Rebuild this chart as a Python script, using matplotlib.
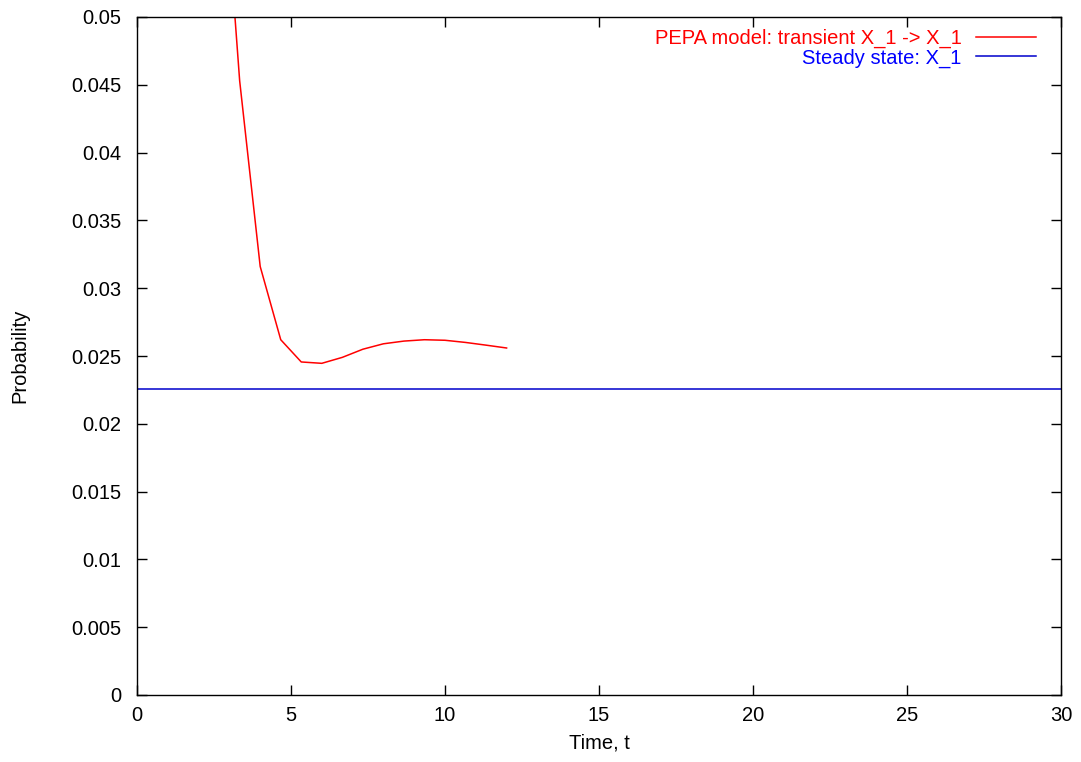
import numpy as np
import matplotlib.pyplot as plt

# transient probability of X_1
t = [2.667, 3.333, 4.0, 4.667, 5.333, 6.0, 6.667, 7.333, 8.0, 8.667,
     9.333, 10.0, 10.667, 11.333, 12.0]
p_transient = [0.0658, 0.0453, 0.0316, 0.0262, 0.02456, 0.02446, 0.0249,
               0.0255, 0.0259, 0.0261, 0.0262, 0.02616, 0.0260, 0.0258,
               0.02559]
steady = 0.02256
xlim = (0, 30)
ylim = (0, 0.05)

plt.rcParams['font.family'] = ['Liberation Sans', 'DejaVu Sans']
plt.rcParams['font.size'] = 14.5

fig = plt.figure(figsize=(10.81, 7.62), dpi=100)
ax = fig.add_axes([137 / 1081, 1 - 695 / 762, (1061 - 137) / 1081, (695 - 17) / 762])

ax.plot(t, p_transient, color='#ff0000', lw=1.1, label='PEPA model: transient X_1 -> X_1')
ax.plot(xlim, [steady, steady], color='#0000cc', lw=1.1, label='Steady state: X_1')

ax.set_xlim(*xlim)
ax.set_ylim(*ylim)
ax.set_xticks(np.arange(0, 31, 5))
ax.set_yticks(np.arange(0, 0.0501, 0.005))
ax.set_yticklabels(['0'] + ['%g' % v for v in np.arange(0.005, 0.0501, 0.005)])
ax.tick_params(direction='in', length=7, width=1, top=True, right=True)
ax.tick_params(axis='y', pad=11)
ax.tick_params(axis='x', pad=8)
for s in ax.spines.values():
    s.set_linewidth(1)

ax.set_xlabel('Time, t', labelpad=6)
ax.set_ylabel('Probability', labelpad=30)

leg = ax.legend(loc='upper right', bbox_to_anchor=(0.986, 1.0), frameon=False,
                markerfirst=False, labelcolor=['#ff0000', '#0000ff'],
                handlelength=3.0, handletextpad=0.7, borderaxespad=0.4,
                borderpad=0.2, labelspacing=0.0)

fig.savefig('out.png', dpi=100)
